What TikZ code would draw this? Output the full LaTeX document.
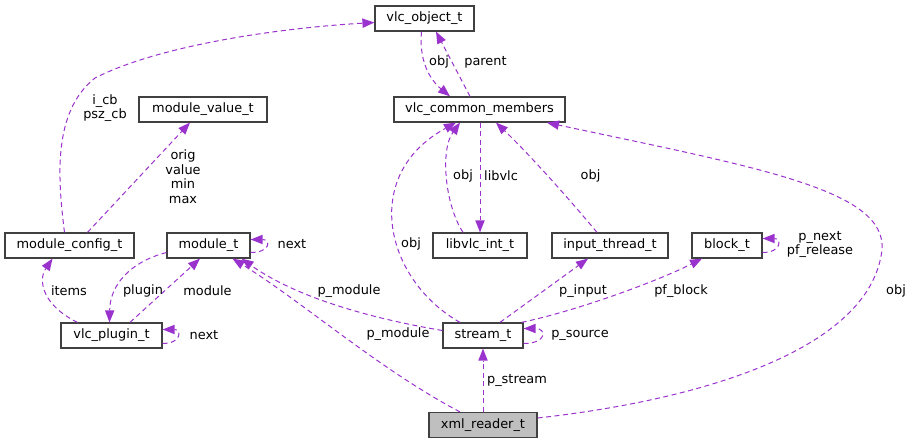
\documentclass[tikz,border=0pt]{standalone}
\usepackage{fontspec}
\setmainfont{DejaVu Sans}
\usetikzlibrary{arrows.meta}
\definecolor{relcolor}{HTML}{9A32CD}
\definecolor{boxline}{HTML}{404040}
\definecolor{mainfill}{HTML}{BFBFBF}

\begin{document}
\begin{tikzpicture}[x=1pt, y=-1pt,
		cls/.style={draw=boxline, line width=1.2pt, minimum height=25pt, inner xsep=2pt, inner ysep=0pt, font=\fontsize{12.9}{14.5}\selectfont},
		lbl/.style={inner sep=0pt, align=center, font=\fontsize{12.9}{14.5}\selectfont},
		rel/.style={draw=relcolor, line width=1pt, dash pattern=on 5pt off 3.5pt, -{Triangle[length=12pt, width=9.5pt, fill=relcolor, line width=0pt]}}]
			%%%%% START %%%%%
			
			\useasboundingbox (0, 0) rectangle (913, 444);
			
			% classes
			\node[cls, minimum width=99] (objt) at (424.5, 18.5) {vlc\_object\_t};
			\node[cls, minimum width=171] (common) at (479.5, 109.5) {vlc\_common\_members};
			\node[cls, minimum width=128] (modval) at (203, 109.5) {module\_value\_t};
			\node[cls, minimum width=129] (modcfg) at (69.5, 245.5) {module\_config\_t};
			\node[cls, minimum width=83] (modt) at (208.5, 245.5) {module\_t};
			\node[cls, minimum width=94] (libvlc) at (480, 245.5) {libvlc\_int\_t};
			\node[cls, minimum width=116] (inthread) at (610, 245.5) {input\_thread\_t};
			\node[cls, minimum width=70] (blockt) at (727, 245.5) {block\_t};
			\node[cls, minimum width=101] (plugin) at (111.5, 335.5) {vlc\_plugin\_t};
			\node[cls, minimum width=80] (stream) at (483, 335.5) {stream\_t};
			\node[cls, minimum width=108, fill=mainfill] (xmlrd) at (483, 425) {xml\_reader\_t};
			
			% relations
			\draw[rel] ([xshift=-5pt]modcfg.north) .. controls (58, 180) and (52, 112) .. (95, 78) .. controls (160, 45) and (280, 28) .. ([yshift=-4pt]objt.west);
			\draw[rel] ([xshift=18pt]modcfg.north) -- ([xshift=-13pt]modval.south);
			\draw[rel] ([xshift=-9.5pt]common.north) -- ([xshift=11.5pt]objt.south);
			\draw[rel] ([xshift=-3pt]objt.south) .. controls (419, 58) and (428, 78) .. ([xshift=-29.5pt]common.north);
			\draw[rel] ([xshift=0.5pt]common.south) -- (libvlc.north);
			\draw[rel] ([xshift=-17pt]libvlc.north) .. controls (445, 205) and (440, 150) .. ([xshift=-19.5pt]common.south);
			\draw[rel] ([xshift=-13pt]inthread.north) .. controls (570, 200) and (530, 155) .. ([xshift=16.5pt]common.south);
			\draw[rel] ([xshift=-23pt]stream.north) .. controls (385, 280) and (360, 175) .. ([xshift=-23.5pt]common.south);
			\draw[rel] ([yshift=7pt]xmlrd.east) .. controls (700, 400) and (870, 350) .. (882, 250) .. controls (887, 190) and (760, 168) .. ([xshift=67.5pt]common.south);
			\draw[rel] ([yshift=-7pt]modt.east) to[out=0, in=0, looseness=4] ([yshift=6pt]modt.east);
			\draw[rel] ([xshift=18.5pt]plugin.north) -- ([xshift=-8.5pt]modt.south);
			\draw[rel] ([yshift=-7pt]modt.west) .. controls (130, 262) and (110, 285) .. ([xshift=-2pt]plugin.north);
			\draw[rel] ([xshift=-34pt]plugin.north) .. controls (42, 305) and (38, 280) .. ([xshift=-17pt]modcfg.south);
			\draw[rel] ([yshift=-8pt]plugin.east) to[out=0, in=0, looseness=3.5] ([yshift=6pt]plugin.east);
			\draw[rel] ([yshift=5pt]stream.west) .. controls (380, 320) and (300, 300) .. ([xshift=33pt]modt.south);
			\draw[rel] ([xshift=-23pt]xmlrd.north) .. controls (380, 370) and (300, 300) .. ([xshift=24pt]modt.south);
			\draw[rel] ([xshift=17pt]stream.north) -- ([xshift=-22pt]inthread.south);
			\draw[rel] ([xshift=-2pt]stream.north east) .. controls (580, 310) and (660, 280) .. ([xshift=-25pt]blockt.south);
			\draw[rel] ([yshift=-7pt]blockt.east) to[out=0, in=0, looseness=3.5] ([yshift=7pt]blockt.east);
			\draw[rel] ([yshift=-8pt]stream.east) to[out=0, in=0, looseness=4] ([yshift=7pt]stream.east);
			\draw[rel] (xmlrd.north) -- (stream.south);
			
			% labels
			\node[lbl] (licb) at (105, 108) {i\_cb\\psz\_cb};
			\node[lbl] (lorig) at (183, 176.5) {orig\\value\\min\\max};
			\node[lbl] (lobja) at (439, 62) {obj};
			\node[lbl] (lparent) at (485.5, 62) {parent};
			\node[lbl] (lobjb) at (463, 176) {obj};
			\node[lbl] (llibvlc) at (501, 176) {libvlc};
			\node[lbl] (lobjc) at (590.5, 176) {obj};
			\node[lbl] (lobjd) at (411, 244) {obj};
			\node[lbl] (lobje) at (896, 291) {obj};
			\node[lbl] (lnexta) at (292, 244.5) {next};
			\node[lbl] (litems) at (69, 290.5) {items};
			\node[lbl] (lplugin) at (143, 290.5) {plugin};
			\node[lbl] (lmodule) at (207.5, 290.5) {module};
			\node[lbl] (lpmoda) at (349, 291) {p\_module};
			\node[lbl] (lpmodb) at (398, 334.5) {p\_module};
			\node[lbl] (lnextb) at (204, 335) {next};
			\node[lbl] (linput) at (583, 291) {p\_input};
			\node[lbl] (lblock) at (681, 291) {pf\_block};
			\node[lbl] (lpnext) at (820, 244.5) {p\_next\\pf\_release};
			\node[lbl] (lsource) at (580, 335) {p\_source};
			\node[lbl] (lstream) at (517, 380) {p\_stream};
			
			%%%%% END %%%%%
\end{tikzpicture}
\end{document}
